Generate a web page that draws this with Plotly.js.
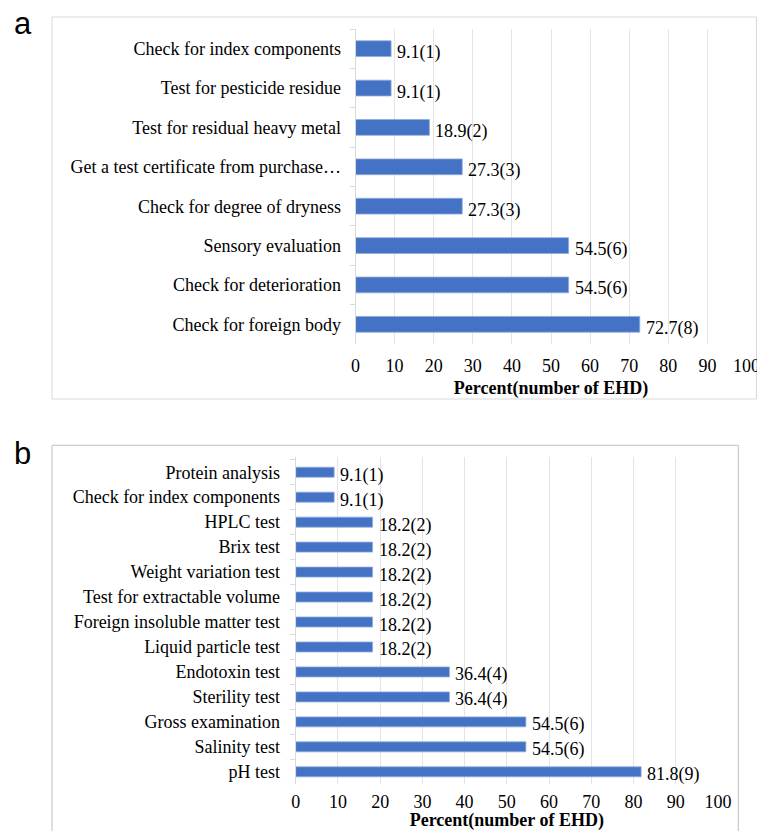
<!DOCTYPE html>
<html>
<head>
<meta charset="utf-8">
<script src="https://cdn.plot.ly/plotly-3.0.1.min.js"></script>
<style>
  html, body { margin: 0; padding: 0; background: #ffffff; }
  #chart { width: 757px; height: 831px; }
</style>
</head>
<body>
<div id="chart"></div>
<script>
// Panel a: quality checks (top to bottom as listed)
const catsA = [
  "Check for index components",
  "Test for pesticide residue",
  "Test for residual heavy metal",
  "Get a test certificate from purchase…",
  "Check for degree of dryness",
  "Sensory evaluation",
  "Check for deterioration",
  "Check for foreign body"
];
const pctA = [9.1, 9.1, 18.9, 27.3, 27.3, 54.5, 54.5, 72.7];
const nA = [1, 1, 2, 3, 3, 6, 6, 8];

// Panel b: tests (top to bottom as listed)
const catsB = [
  "Protein analysis",
  "Check for index components",
  "HPLC test",
  "Brix test",
  "Weight variation test",
  "Test for extractable volume",
  "Foreign insoluble matter test",
  "Liquid particle test",
  "Endotoxin test",
  "Sterility test",
  "Gross examination",
  "Salinity test",
  "pH test"
];
const pctB = [9.1, 9.1, 18.2, 18.2, 18.2, 18.2, 18.2, 18.2, 36.4, 36.4, 54.5, 54.5, 81.8];
const nB = [1, 1, 2, 2, 2, 2, 2, 2, 4, 4, 6, 6, 9];

const xTicks = [0, 10, 20, 30, 40, 50, 60, 70, 80, 90, 100];
const xTitle = "Percent(number of EHD)";

const W = 757, H = 831;
const serif = "Liberation Serif, Times New Roman, serif";
const barColor = "#4472C4";

function barTrace(cats, vals, xa, ya) {
  return {
    type: "bar",
    orientation: "h",
    x: vals,
    y: cats,
    xaxis: xa,
    yaxis: ya,
    marker: { color: barColor, line: { color: "#8faadc", width: 0.8 } },
    hoverinfo: "x+y"
  };
}

function valueLabels(cats, vals, counts, xa, ya, yshift) {
  return cats.map((c, i) => ({
    xref: xa, yref: ya,
    x: vals[i], y: c,
    text: vals[i].toFixed(1) + "(" + counts[i] + ")",
    showarrow: false,
    xanchor: "left",
    yanchor: "middle",
    xshift: 4,
    yshift: yshift,
    font: { family: serif, size: 18, color: "#000000" }
  }));
}

function xAxis(domain, anchor, labelStandoff, titleStandoff) {
  return {
    domain: domain,
    anchor: anchor,
    range: [0, 100],
    tickvals: xTicks,
    ticktext: xTicks.map(String),
    ticklabeloverflow: "allow",
    showgrid: true,
    gridcolor: "#e4e4e4",
    gridwidth: 1,
    zeroline: false,
    showline: false,
    ticks: "",
    ticklabelstandoff: labelStandoff,
    tickfont: { family: serif, size: 18, color: "#000000" },
    title: {
      text: "<b>" + xTitle + "</b>",
      font: { family: serif, size: 18, color: "#000000" },
      standoff: titleStandoff
    },
    fixedrange: true
  };
}

function yAxis(domain, anchor, standoff) {
  return {
    domain: domain,
    anchor: anchor,
    type: "category",
    autorange: "reversed",
    showgrid: false,
    zeroline: false,
    showline: true,
    linecolor: "#d9d9d9",
    linewidth: 1,
    ticks: "outside",
    tickson: "boundaries",
    ticklen: 5,
    tickcolor: "#d9d9d9",
    ticklabelstandoff: standoff,
    tickfont: { family: serif, size: 18, color: "#000000" },
    fixedrange: true
  };
}

// pixel geometry -> paper fractions
const px = v => v / W;
const py = v => (H - v) / H;

const layout = {
  width: W,
  height: H,
  margin: { l: 0, r: 0, t: 0, b: 0 },
  paper_bgcolor: "#ffffff",
  plot_bgcolor: "#ffffff",
  showlegend: false,
  bargap: 0.6,
  xaxis: xAxis([px(355.5), px(746.5)], "y", 9, 6),
  yaxis: yAxis([py(344), py(29)], "x", 10),
  xaxis2: xAxis([px(295.7), px(718)], "y2", 5, 6),
  yaxis2: yAxis([py(784.3), py(456.7)], "x2", 11),
  shapes: [
    { type: "rect", xref: "paper", yref: "paper",
      x0: px(52), x1: px(756.5), y0: py(399), y1: py(17),
      line: { color: "#d9d9d9", width: 1 }, fillcolor: "rgba(0,0,0,0)", layer: "below" },
    { type: "rect", xref: "paper", yref: "paper",
      x0: px(52), x1: px(738.3), y0: py(831.5), y1: py(445.3),
      line: { color: "#bfbfbf", width: 1 }, fillcolor: "rgba(0,0,0,0)", layer: "below" }
  ],
  annotations: [
    ...valueLabels(catsA, pctA, nA, "x", "y", -4),
    ...valueLabels(catsB, pctB, nB, "x2", "y2", -3),
    { xref: "paper", yref: "paper", x: px(12), y: py(24), xanchor: "left", yanchor: "middle",
      text: "a", showarrow: false,
      font: { family: "Liberation Sans, Arial, sans-serif", size: 31, color: "#000000" } },
    { xref: "paper", yref: "paper", x: px(12), y: py(453), xanchor: "left", yanchor: "middle",
      text: "b", showarrow: false,
      font: { family: "Liberation Sans, Arial, sans-serif", size: 31, color: "#000000" } }
  ]
};

const data = [
  barTrace(catsA, pctA, "x", "y"),
  barTrace(catsB, pctB, "x2", "y2")
];

Plotly.newPlot("chart", data, layout, { displayModeBar: false, staticPlot: true });
</script>
</body>
</html>
